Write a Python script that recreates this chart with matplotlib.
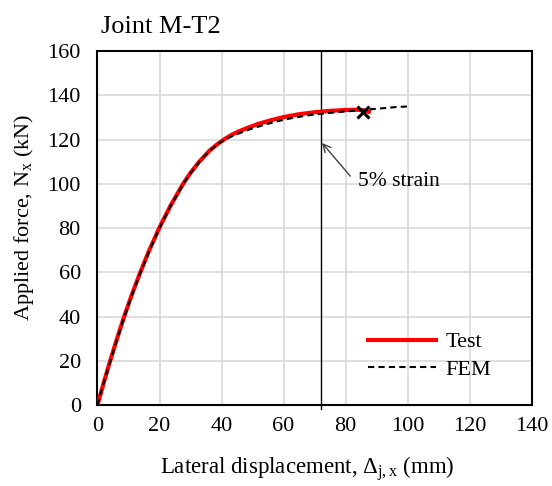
import matplotlib
matplotlib.use("Agg")
import matplotlib.pyplot as plt

# Data
test_x = [0, 2.0, 4.1, 6.3, 8.6, 11.1, 13.8, 16.7, 19.9, 23.5, 27.6, 30.0, 32.8, 36.1, 38.7, 40.7,
          43.0, 45.5, 48.5, 52, 56, 60, 65, 70, 75, 80, 84, 86, 87.5]
test_y = [0, 10, 20, 30, 40, 50, 60, 70, 80, 90, 100, 105, 110, 115, 118, 120,
          122, 123.7, 125.4, 127.2, 128.8, 130.2, 131.5, 132.4, 133, 133.4, 133.5, 133.2, 132.6]
fem_x = [0, 2.0, 4.2, 6.4, 8.7, 11.2, 13.9, 16.8, 20.0, 23.6, 27.7, 30.1, 32.9, 36.2, 38.8, 40.9,
         43.3, 46, 49, 53.5, 58, 62.5, 68, 73, 78, 83, 87, 92, 96, 100]
fem_y = [0, 10, 20, 30, 40, 50, 60, 70, 80, 90, 100, 105, 110, 115, 118, 119.8,
         121.5, 123, 124.6, 126.6, 128.3, 129.7, 131, 131.8, 132.5, 133.1, 133.6, 134.2, 134.7, 135]
fail_x = [85.5]
fail_y = [132.5]
strain_x = 72
x_ticks = [0, 20, 40, 60, 80, 100, 120, 140]
y_ticks = [0, 20, 40, 60, 80, 100, 120, 140, 160]

plt.rcParams['font.family'] = ['Liberation Serif', 'DejaVu Serif']
plt.rcParams['mathtext.fontset'] = 'custom'
plt.rcParams['mathtext.rm'] = 'Liberation Serif'
plt.rcParams['mathtext.it'] = 'Liberation Serif'

fig = plt.figure(figsize=(5.52, 4.86), dpi=100)
ax = fig.add_axes([0.1766, 0.1667, 0.7866, 0.728])

ax.set_xlim(0, 140)
ax.set_ylim(0, 160)
ax.set_xticks(x_ticks)
ax.set_yticks(y_ticks)
ax.grid(True, color='#d9d9d9', linewidth=1.2, zorder=0)
ax.set_axisbelow(True)
ax.tick_params(length=0, labelsize=16)
ax.tick_params(axis='x', pad=9)
ax.tick_params(axis='y', pad=12)
for s in ax.spines.values():
    s.set_linewidth(1.5)
    s.set_color('black')

ax.axvline(strain_x, ymin=-0.012, ymax=1, color='black', linewidth=1.0, clip_on=False, zorder=3)

ax.plot(test_x, test_y, color='#ff0000', linewidth=3, label='Test', zorder=4,
        solid_joinstyle='round')
ax.plot(fem_x, fem_y, color='black', linestyle=(0, (3, 2)), linewidth=1.5, label='FEM', zorder=5)
ax.plot(fail_x, fail_y, marker='x', color='black', markersize=9, mew=2.2, linestyle='none', zorder=6)

ax.annotate('', xy=(72.4, 118.5), xytext=(81.5, 103.5),
            arrowprops=dict(arrowstyle='->', color='#404040', lw=1.0, mutation_scale=14,
                            shrinkA=0, shrinkB=0))
ax.text(84.0, 101, '5% strain', fontsize=15.5, ha='left', va='center')

ax.legend(loc='upper left', bbox_to_anchor=(0.622, 0.207), frameon=False, fontsize=16,
          handlelength=3.1, handletextpad=0.4, labelspacing=0.3, borderpad=0, borderaxespad=0)

ax.set_xlabel('Lateral displacement, $\\Delta_{\\rm j,x}$ (mm)', fontsize=16.5, labelpad=13, x=0.484)
ax.set_ylabel('Applied force, N$_{\\rm x}$ (kN)', fontsize=16, labelpad=8, y=0.53)

fig.text(0.183, 0.932, 'Joint M-T2', fontsize=19, ha='left', va='baseline')

fig.savefig('out.png', dpi=100)
